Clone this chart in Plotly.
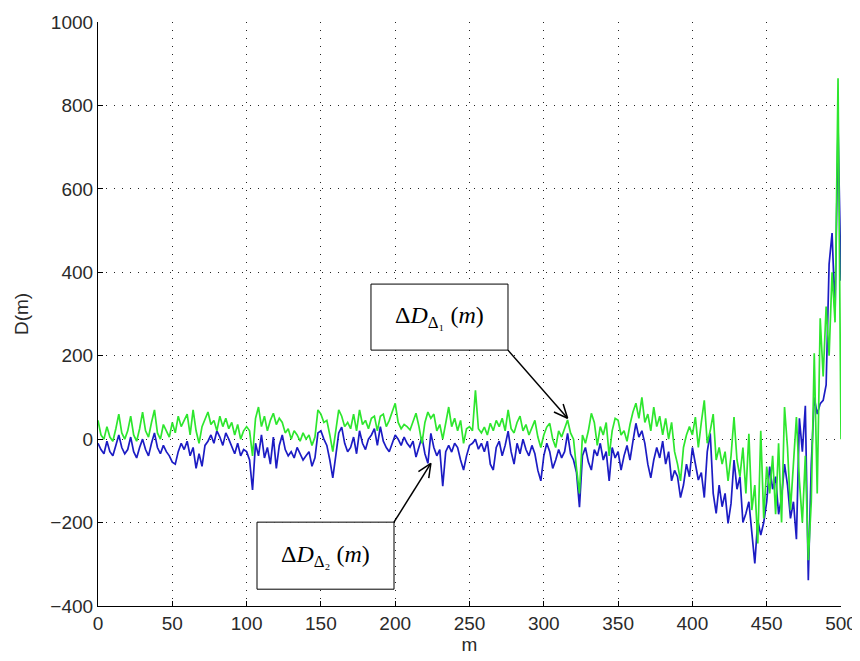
import math
import plotly.graph_objects as go

# m index (every 2nd sample)
m = list(range(0, 501, 2))

# Delta D_{Delta2}(m)  (blue, lower)
d2 = [
    -10, -25, -35, -5, -30, -40, -15, 10, -20, -35, -25, 5, -30, -45, -20, 0, -25, -40, -10, 15, -20, -35, -15, -30, -40,
    -55, -60, -30, -10, -25, -5, -40, -20, -70, -35, -65, -15, -5, 10, -10, 20, 5, -15, 15, 0, -20, -35, -10, -40, -25,
    -30, -50, -122, -10, -40, 10, -45, -20, -60, 5, -70, -15, 10, -25, -40, -30, -45, -20, -35, -50, -40, -30, -65, -45, 15,
    20, 0, -15, -50, -93, -40, 15, 29, -10, -30, -20, 5, -35, 20, -10, -25, 0, 10, 25, -15, 30, -5, -20, -30, -10,
    10, 0, -15, 5, -10, -19, -5, -43, -20, 5, -35, -58, 14, -20, -40, -25, -113, -30, -15, -31, -10, -20, -50, -74, -40,
    -15, -10, 0, -24, -10, -30, -5, -60, -74, -20, -5, -40, -15, 19, -30, -60, -10, -35, 0, -25, -40, -15, -35, -75, -100,
    -40, -10, -30, -70, -50, -25, -45, -30, 14, -35, -50, -80, -163, -40, -20, -55, -74, -25, -40, -10, -50, -30, -100, -20, -45,
    -30, -74, -40, -15, -50, -5, 38, 5, 20, -10, -60, -93, -50, -20, -45, -5, -60, -30, -100, -75, -90, -140, -110, -60, -90,
    -20, -60, -98, -80, -140, -30, 14, -130, -178, -110, -162, -130, -202, -154, -50, -120, -90, -200, -178, -150, -218, -298, -194, -230, -200,
    -150, -66, -120, -90, -180, -140, -60, -110, -190, -150, -240, 50, -30, 80, -338, -60, 100, 60, 85, 93, 130, 420, 494, 300, 751,
    380,
]

# Delta D_{Delta1}(m)  (green, upper)
d1 = [
    45, 10, 0, 30, 5, -5, 25, 60, 15, 0, 20, 55, 10, -5, 25, 65, 20, 5, 40, 70, 15, 0, 35, 20, 5,
    40, 15, 55, 30, 45, 60, 10, 70, 20, -10, 30, 50, 65, 35, 45, 20, 55, 30, 50, 25, 40, 10, 35, 0, 20,
    30, 20, -40, 50, 77, 30, 55, 20, 45, 62, 35, 50, 40, 15, 25, 0, 20, 10, -5, 15, 0, 10, -15, 5, 70,
    60, 40, 45, 10, -30, 20, 70, 55, 30, 40, 25, 60, 20, 70, 35, 45, 25, 50, 55, 20, 55, 60, 30, 45, 65,
    86, 40, 25, 35, 30, 22, 45, 62, 30, -10, 40, 65, 50, 60, 20, 35, 0, 40, 77, 30, 50, 20, 45, -10, 25,
    30, 20, 117, 25, 15, 29, 10, 38, 20, 45, 30, 50, 20, 70, 25, 15, 40, 55, 20, 35, 10, 30, 45, 5, -20,
    10, 29, 38, 0, -20, 20, 5, 25, 46, 15, 0, -70, -130, 10, -10, 20, 62, 40, -15, 30, 10, 40, -40, 20, 50,
    45, 10, 20, -5, 35, 65, 86, 50, 100, 40, 60, 20, 77, 30, 55, 10, 50, 0, 40, -30, -60, -100, -20, 10, 30,
    10, 53, -20, 40, 93, -10, 20, 60, -50, -20, -60, -30, -100, -40, 53, -50, -90, -20, -130, 13, -170, -110, -250, 20, -190,
    -66, -130, -40, -180, -10, -200, 77, -20, -170, -60, 53, -100, -200, -40, -290, -150, 206, -130, 290, 150, 318, 200, 400, 280, 865,
    0,
]

x_ticks = [0, 50, 100, 150, 200, 250, 300, 350, 400, 450, 500]
y_ticks = [-400, -200, 0, 200, 400, 600, 800, 1000]

X_RANGE = [0, 500]
Y_RANGE = [-400, 1000]
# page has an 8px body margin, so shift margins to place the plot area like the reference
ML, MR, MT, MB = 90, 27, 14, 63
W, H = 860, 661
PW, PH = W - ML - MR, H - MT - MB
SX = PW / (X_RANGE[1] - X_RANGE[0])
SY = PH / (Y_RANGE[1] - Y_RANGE[0])

fig = go.Figure()
fig.add_trace(go.Scatter(x=m, y=d2, mode="lines", line=dict(color="#1c1cc4", width=1.7), showlegend=False))
fig.add_trace(go.Scatter(x=m, y=d1, mode="lines", line=dict(color="#2ee62e", width=1.7), showlegend=False))

font_ax = dict(family="Liberation Sans, Arial", size=19, color="#2a2a2a")
axis_common = dict(
    showgrid=True, gridcolor="#222", griddash="1px,7px", gridwidth=1.2,
    showline=True, linecolor="black", linewidth=1.2,
    ticks="inside", ticklen=5, tickcolor="black",
    zeroline=False, automargin=False,
    tickfont=font_ax, title_font=font_ax,
)

fig.update_xaxes(range=X_RANGE, tickvals=x_ticks, title_text="m", title_standoff=4, **axis_common)
fig.update_yaxes(range=Y_RANGE, tickvals=y_ticks, title_text="D(m)", title_standoff=16, **axis_common)

# annotation boxes
boxes = [
    dict(x0=183.7, x1=275.9, y0=213.4, y1=371.7, text="Δ<i>D</i><sub>Δ₁</sub> (<i>m</i>)"),
    dict(x0=107.0, x1=199.2, y0=-359.7, y1=-199.0, text="Δ<i>D</i><sub>Δ₂</sub> (<i>m</i>)"),
]
tfont = dict(family="Liberation Serif, Times New Roman", size=24, color="black")
for b in boxes:
    fig.add_shape(type="rect", x0=b["x0"], x1=b["x1"], y0=b["y0"], y1=b["y1"], xref="x", yref="y",
                  line=dict(color="black", width=1), fillcolor="white", layer="above")
    fig.add_annotation(x=(b["x0"] + b["x1"]) / 2, y=(b["y0"] + b["y1"]) / 2, xref="x", yref="y",
                       showarrow=False, text=b["text"], font=tfont)

# arrows (tail at box corner, head at curve) with open V heads
arrows = [
    dict(tx=275.9, ty=213.4, hx=316.0, hy=50.0),
    dict(tx=199.2, ty=-199.0, hx=224.0, hy=-58.0),
]
HEAD_LEN = 15.0
HEAD_ANG = math.radians(24)
for a in arrows:
    fig.add_shape(type="line", x0=a["tx"], y0=a["ty"], x1=a["hx"], y1=a["hy"], xref="x", yref="y",
                  line=dict(color="black", width=1.5), layer="above")
    dx = (a["hx"] - a["tx"]) * SX
    dy = (a["hy"] - a["ty"]) * SY
    ang = math.atan2(dy, dx)
    for s in (-1, 1):
        bx = -HEAD_LEN * math.cos(ang + s * HEAD_ANG)
        by = -HEAD_LEN * math.sin(ang + s * HEAD_ANG)
        fig.add_shape(type="line", x0=a["hx"], y0=a["hy"], x1=a["hx"] + bx / SX, y1=a["hy"] + by / SY,
                      xref="x", yref="y", line=dict(color="black", width=1.5), layer="above")

fig.update_layout(
    width=W, height=H,
    margin=dict(l=ML, r=MR, t=MT, b=MB),
    plot_bgcolor="white", paper_bgcolor="white",
)

fig.write_html("out.html")
